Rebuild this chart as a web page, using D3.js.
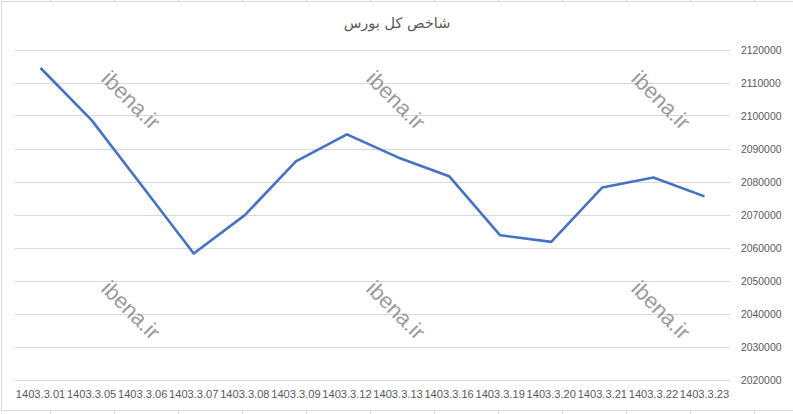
<!DOCTYPE html>
<html>
<head>
<meta charset="utf-8">
<script src="https://cdn.jsdelivr.net/npm/d3@7"></script>
<style>
  body { margin: 0; background: #fff; }
  svg { display: block; }
</style>
</head>
<body>
<div class="line-chart"></div>
<script>
var categories = ['1403.3.01', '1403.3.05', '1403.3.06', '1403.3.07', '1403.3.08', '1403.3.09', '1403.3.12',
                  '1403.3.13', '1403.3.16', '1403.3.19', '1403.3.20', '1403.3.21', '1403.3.22', '1403.3.23'];
var values = [2114400, 2098600, 2078400, 2058200, 2069800, 2086100, 2094300,
              2087300, 2081600, 2063700, 2061700, 2078200, 2081200, 2075500];
var yTicks = [2020000, 2030000, 2040000, 2050000, 2060000, 2070000, 2080000, 2090000, 2100000, 2110000, 2120000];
var title = 'شاخص کل بورس';
var watermark = 'ibena.ir';

var width = 793,
    height = 414,
    lineColor = '#4472C4',
    gridColor = '#d9d9d9',
    textColor = '#595959';

var svg = d3.select('.line-chart').append('svg').attr('width', width).attr('height', height);

// spreadsheet cell lines peeking out round the chart
var cellX = d3.range(50, width, 64);
svg.selectAll('.cell-top').data(cellX).enter().append('line')
  .attr('x1', function(d) { return d + 0.5; }).attr('x2', function(d) { return d + 0.5; })
  .attr('y1', 0).attr('y2', 1).attr('stroke', '#d4d4d4');
svg.selectAll('.cell-bot').data(cellX).enter().append('line')
  .attr('x1', function(d) { return d + 0.5; }).attr('x2', function(d) { return d + 0.5; })
  .attr('y1', 411).attr('y2', height).attr('stroke', '#d4d4d4');

// chart frame
svg.append('rect').attr('x', 1.5).attr('y', 1.5).attr('width', width + 2).attr('height', 409)
  .attr('fill', '#fff').attr('stroke', gridColor);

var x = d3.scaleBand().domain(categories).range([15, 730]);
var y = d3.scaleLinear().domain([2020000, 2120000]).range([379.5, 49.5]);

// grid lines
svg.append('g').selectAll('line').data(yTicks).enter().append('line')
  .attr('x1', 15).attr('x2', 730)
  .attr('y1', function(d) { return Math.round(y(d)) + 0.5; })
  .attr('y2', function(d) { return Math.round(y(d)) + 0.5; })
  .attr('stroke', gridColor).attr('stroke-width', 1);

// y axis on the right
var yAxis = d3.axisRight(y).tickValues(yTicks).tickSize(0).tickPadding(0).tickFormat(d3.format('d'));
var gy = svg.append('g').attr('transform', 'translate(741,0)').call(yAxis);
gy.select('.domain').remove();
gy.selectAll('text').attr('fill', textColor).style('font-family', 'Liberation Sans, Arial, sans-serif')
  .style('font-size', '10.4px').attr('dy', '0.35em');

// x axis labels
var xAxis = d3.axisBottom(x).tickSize(0).tickPadding(0);
var gx = svg.append('g').attr('transform', 'translate(0,394)').call(xAxis);
gx.select('.domain').remove();
gx.selectAll('text').attr('fill', textColor).attr('dy', '0.35em')
  .style('font-family', 'Liberation Sans, Arial, sans-serif').style('font-size', '11.1px');

// watermarks
var marks = [[131, 100], [396, 100], [661, 100], [131, 310], [396, 310], [661, 310]];
svg.append('g').selectAll('text').data(marks).enter().append('text')
  .attr('transform', function(d) { return 'translate(' + d[0] + ',' + d[1] + ') rotate(45)'; })
  .attr('text-anchor', 'middle').attr('dy', '0.35em')
  .style('font-family', 'Liberation Sans, Arial, sans-serif').style('font-size', '22px')
  .attr('fill', '#808080').attr('fill-opacity', 0.8)
  .text(watermark);

// the line
var line = d3.line()
  .x(function(d, i) { return x(categories[i]) + x.bandwidth() / 2; })
  .y(function(d) { return y(d); });
svg.append('path').datum(values).attr('d', line)
  .attr('fill', 'none').attr('stroke', lineColor).attr('stroke-width', 2.6)
  .attr('stroke-linejoin', 'round');

// title
svg.append('text').attr('x', 397).attr('y', 23).attr('dy', '0.35em').attr('text-anchor', 'middle')
  .attr('fill', textColor).style('font-family', 'DejaVu Sans, sans-serif').style('font-size', '14.5px')
  .text(title);
</script>
</body>
</html>
